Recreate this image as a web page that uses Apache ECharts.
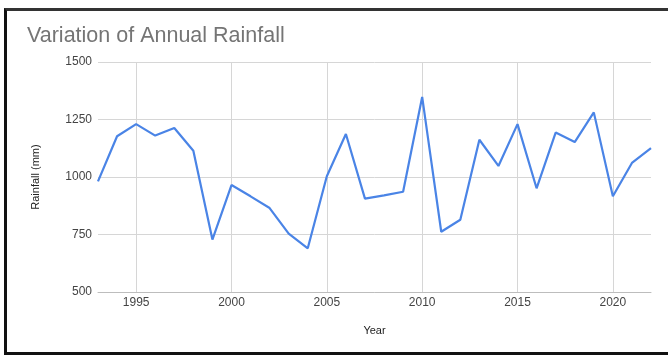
<!DOCTYPE html>
<html>
<head>
<meta charset="utf-8">
<script src="https://cdn.jsdelivr.net/npm/echarts@6/dist/echarts.min.js"></script>
<style>
  html, body { margin: 0; padding: 0; background: #fff; }
  #wrap { position: relative; width: 668px; height: 356px; overflow: hidden; }
  #frame {
    position: absolute; left: 4px; top: 8px; width: 670px; height: 341px;
    border-left: 3px solid #111; border-top: 3px solid #333; border-bottom: 3px solid #111;
  }
  #chart { position: absolute; left: 0; top: 0; width: 668px; height: 356px; }
</style>
</head>
<body>
<div id="wrap">
  <div id="frame"></div>
  <div id="chart"></div>
</div>
<script>
// Annual rainfall (mm), 1993-2022
const years = [1993, 1994, 1995, 1996, 1997, 1998, 1999, 2000, 2001, 2002,
               2003, 2004, 2005, 2006, 2007, 2008, 2009, 2010, 2011, 2012,
               2013, 2014, 2015, 2016, 2017, 2018, 2019, 2020, 2021, 2022];
const rainfall = [981, 1177, 1230, 1180, 1213, 1114, 728, 965, 916, 865,
                  754, 690, 1003, 1187, 906, 920, 936, 1348, 762, 814,
                  1162, 1048, 1230, 951, 1193, 1152, 1281, 916, 1061, 1126];
const yTicks = [500, 750, 1000, 1250, 1500];

const chart = echarts.init(document.getElementById('chart'), null, { renderer: 'canvas' });
const font = 'Liberation Sans, Arial, sans-serif';
const everyFifth = (idx, val) => Number(val) % 5 === 0;

chart.setOption({
  backgroundColor: 'transparent',
  animation: false,
  title: {
    text: 'Variation of Annual Rainfall',
    left: 27, top: 25, padding: 0,
    textStyle: { fontFamily: font, fontSize: 21.5, fontWeight: 'normal', color: '#757575' }
  },
  grid: { left: 98, right: 17, top: 62, bottom: 64, containLabel: false },
  xAxis: {
    type: 'category',
    data: years.map(String),
    boundaryGap: false,
    name: 'Year',
    nameLocation: 'middle',
    nameGap: 33,
    nameTextStyle: { fontFamily: font, fontSize: 11, color: '#222' },
    axisLine: { show: true, lineStyle: { color: '#bdbdbd', width: 1 } },
    axisTick: { show: false },
    axisLabel: { interval: everyFifth, margin: 5, fontFamily: font, fontSize: 12, color: '#444' },
    splitLine: { show: true, interval: everyFifth, lineStyle: { color: '#d6d6d6', width: 1 } }
  },
  yAxis: {
    type: 'value',
    min: yTicks[0],
    max: yTicks[yTicks.length - 1],
    interval: yTicks[1] - yTicks[0],
    name: 'Rainfall (mm)',
    nameLocation: 'middle',
    nameGap: 57,
    nameTextStyle: { fontFamily: font, fontSize: 11, color: '#222' },
    axisLine: { show: false },
    axisTick: { show: false },
    axisLabel: { margin: 6, fontFamily: font, fontSize: 12, color: '#444', formatter: v => String(v) },
    splitLine: { show: true, lineStyle: { color: '#d6d6d6', width: 1 } }
  },
  series: [{
    type: 'line',
    data: rainfall,
    showSymbol: false,
    symbol: 'none',
    lineStyle: { color: '#4a84e6', width: 2.2 },
    itemStyle: { color: '#4a84e6' }
  }]
});
</script>
</body>
</html>
